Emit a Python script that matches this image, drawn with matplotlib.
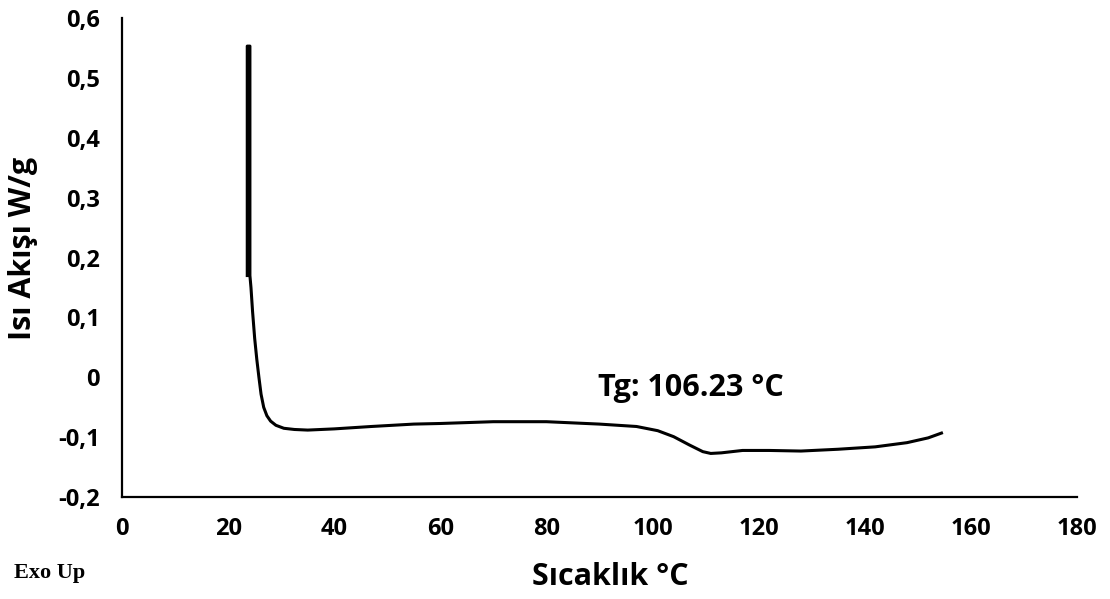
import matplotlib
matplotlib.use("Agg")
import matplotlib.pyplot as plt

# DSC eğrisi
sicaklik = [23.6, 23.6, 24.1, 24.1, 24.3, 24.6, 25.0, 25.4, 25.8, 26.2, 26.7, 27.3, 28.0, 29.0,
            30.5, 32.5, 35.0, 40.0, 47.0, 55.0, 60.0, 70.0, 80.0, 90.0, 97.0, 101.0, 104.0, 107.0,
            109.5, 111.0, 113.0, 117.0, 122.0, 128.0, 135.0, 142.0, 148.0, 152.0, 154.5]
isi_akisi = [0.17, 0.553, 0.553, 0.17, 0.15, 0.11, 0.065, 0.03, 0.0, -0.028, -0.05, -0.064, -0.073, -0.080,
             -0.085, -0.087, -0.088, -0.086, -0.082, -0.078, -0.077, -0.074, -0.074, -0.078, -0.082, -0.089, -0.099, -0.113,
             -0.124, -0.127, -0.126, -0.122, -0.122, -0.123, -0.120, -0.116, -0.109, -0.101, -0.093]

x_ticks = [0, 20, 40, 60, 80, 100, 120, 140, 160, 180]
y_ticks = [-0.2, -0.1, 0, 0.1, 0.2, 0.3, 0.4, 0.5, 0.6]
y_labels = ['-0,2', '-0,1', '0', '0,1', '0,2', '0,3', '0,4', '0,5', '0,6']

plt.rcParams['font.family'] = ['Open Sans', 'DejaVu Sans']

fig = plt.figure(figsize=(11.1, 5.99), dpi=100)
ax = fig.add_axes([0.110, 0.170, 0.860, 0.800])

ax.plot(sicaklik, isi_akisi, color='black', lw=2.2, solid_joinstyle='round')

ax.set_xlim(0, 180)
ax.set_ylim(-0.2, 0.6)
ax.set_xticks(x_ticks)
ax.set_yticks(y_ticks)
ax.set_yticklabels(y_labels)
ax.tick_params(length=0, labelsize=17)
ax.tick_params(axis='x', pad=14)
ax.tick_params(axis='y', pad=16)
for lab in ax.get_xticklabels() + ax.get_yticklabels():
    lab.set_fontweight('bold')

ax.spines['top'].set_visible(False)
ax.spines['right'].set_visible(False)
ax.spines['left'].set_linewidth(1.6)
ax.spines['bottom'].set_linewidth(1.6)

ax.set_xlabel('Sıcaklık °C', fontsize=22, fontweight='bold', va='center')
ax.xaxis.set_label_coords(0.511, -0.167)
ax.set_ylabel('Isı Akışı W/g', fontsize=22, fontweight='bold', va='center', ha='center')
ax.yaxis.set_label_coords(-0.104, 0.52)

ax.text(89.7, -0.017, 'Tg: 106.23 °C', fontsize=22, fontweight='bold', va='center')
fig.text(0.013, 0.043, 'Exo Up', fontsize=16, fontweight='bold', family='Liberation Serif', va='center')

plt.savefig('out.png', dpi=100)
